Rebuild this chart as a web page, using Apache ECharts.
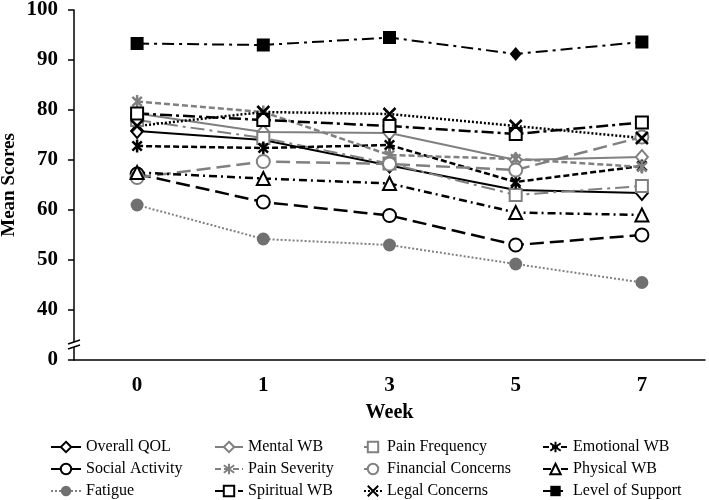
<!DOCTYPE html>
<html>
<head>
<meta charset="utf-8">
<script src="https://cdn.jsdelivr.net/npm/echarts@6/dist/echarts.min.js"></script>
<style>
html,body{margin:0;padding:0;background:#fff;}
#chart{width:709px;height:500px;}
</style>
</head>
<body>
<div id="chart"></div>
<script>
const weeks = ['0', '1', '3', '5', '7'];
const yTickLabels = ['0', '40', '50', '60', '70', '80', '90', '100'];

const overallQOL = [75.8, 74.0, 68.9, 64.0, 63.4];
const mentalWB = [79.3, 75.6, 75.4, 70.0, 70.6];
const painFrequency = [78.0, 74.4, 69.3, 63.0, 64.8];
const emotionalWB = [72.8, 72.4, 73.0, 65.6, 68.8];
const socialActivity = [67.2, 61.6, 58.9, 53.0, 55.0];
const painSeverity = [81.7, 79.6, 71.0, 70.2, 68.6];
const financialConcerns = [66.5, 69.7, 69.2, 68.0, 74.6];
const physicalWB = [67.5, 66.3, 65.3, 59.5, 59.0];
const fatigue = [61.0, 54.2, 53.0, 49.2, 45.5];
const spiritualWB = [79.3, 78.0, 76.8, 75.2, 77.5];
const legalConcerns = [76.8, 79.6, 79.2, 76.8, 74.4];
const levelOfSupport = [93.3, 93.0, 94.5, 91.2, 93.6];

// legend layout: rows of names (reading order of the reference legend)
const legendRows = [
  ['Overall QOL', 'Mental WB', 'Pain Frequency', 'Emotional WB'],
  ['Social Activity', 'Pain Severity', 'Financial Concerns', 'Physical WB'],
  ['Fatigue', 'Spiritual WB', 'Legal Concerns', 'Level of Support']
];

const BLACK = '#000000';
const GRAY = '#808080';
const X_PATH = 'path://M0 0L10 10M10 0L0 10';
const AST_PATH = 'path://M1 1L9 9M9 1L1 9M5 -0.5L5 10.5';

function ser(name, data, color, lineType, width, symbol, size, fill, border) {
  return {
    name: name,
    type: 'line',
    data: data,
    symbol: symbol,
    symbolSize: size,
    symbolKeepAspect: true,
    showSymbol: true,
    lineStyle: { color: color, type: lineType, width: width },
    itemStyle: { color: fill, borderColor: color, borderWidth: border },
    emphasis: { disabled: true },
    z: 2
  };
}

const series = [
  ser('Overall QOL', overallQOL, BLACK, 'solid', 2, 'diamond', [12, 14], '#fff', 2),
  ser('Mental WB', mentalWB, GRAY, 'solid', 2, 'diamond', [12, 14], '#fff', 2),
  ser('Pain Frequency', painFrequency, GRAY, [14, 5, 3, 5], 2, 'rect', 12, '#fff', 2),
  ser('Emotional WB', emotionalWB, BLACK, [6, 3], 2.5, AST_PATH, 13, 'none', 2.5),
  ser('Social Activity', socialActivity, BLACK, [14, 6], 2.5, 'circle', 13, '#fff', 2),
  ser('Pain Severity', painSeverity, GRAY, [6, 3], 2.5, AST_PATH, 13, 'none', 2.5),
  ser('Financial Concerns', financialConcerns, GRAY, [14, 6], 2.5, 'circle', 13, '#fff', 2),
  ser('Physical WB', physicalWB, BLACK, [8, 4, 2, 4], 2.5, 'triangle', 13, '#fff', 2),
  ser('Fatigue', fatigue, GRAY, [2, 2], 2, 'circle', 13, '#707070', 0),
  ser('Spiritual WB', spiritualWB, BLACK, [12, 4, 3, 4], 2.5, 'rect', 12, '#fff', 2),
  ser('Legal Concerns', legalConcerns, BLACK, [2, 2], 2.5, X_PATH, 12, 'none', 2.5),
  ser('Level of Support', levelOfSupport.map(function (v, i) {
    return i === 3 ? { value: v, symbol: 'diamond', symbolSize: [12, 14] } : v;
  }), BLACK, [12, 5, 3, 5], 2, 'rect', 13, BLACK, 0)
];

const legendText = { fontFamily: 'Liberation Serif', fontSize: 16, color: '#000' };
const colLeft = [50, 214, 363, 542];
const colIconW = [30, 28, 18, 25];
const rowCenter = [448, 470, 492];
const legends = [];
legendRows.forEach(function (row, r) {
  row.forEach(function (name, c) {
    legends.push({
      orient: 'horizontal', left: colLeft[c], top: rowCenter[r] - 9,
      itemWidth: colIconW[c], itemHeight: 13, itemGap: 0,
      data: [name], textStyle: legendText, selectedMode: false, padding: 0
    });
  });
});

const axisFont = { fontFamily: 'Liberation Serif', fontWeight: 'bold', fontSize: 21, color: '#000' };

const chart = echarts.init(document.getElementById('chart'), null, { renderer: 'canvas' });
chart.setOption({
  animation: false,
  backgroundColor: '#fff',
  grid: { left: 74, right: 4, top: 10, bottom: 140, containLabel: false, outerBoundsMode: 'none' },
  xAxis: {
    type: 'category', data: weeks, boundaryGap: true,
    axisLine: { lineStyle: { color: BLACK, width: 1.5 } },
    axisTick: { show: false },
    axisLabel: Object.assign({ margin: 15 }, axisFont),
    name: 'Week', nameLocation: 'middle', nameGap: 43,
    nameTextStyle: Object.assign({}, axisFont, { fontSize: 20 })
  },
  yAxis: {
    type: 'value', min: 30, max: 100, interval: 10,
    axisLine: { show: true, lineStyle: { color: BLACK, width: 1.5 } },
    axisTick: { show: true, length: 6, lineStyle: { color: BLACK, width: 1.5 } },
    splitLine: { show: false },
    axisLabel: Object.assign({
      margin: 16,
      formatter: function (v) {
        const idx = [30, 40, 50, 60, 70, 80, 90, 100].indexOf(v);
        return idx >= 0 ? yTickLabels[idx] : '';
      }
    }, axisFont),
    name: 'Mean Scores', nameLocation: 'middle', nameGap: 55, nameRotate: 90,
    nameMoveOverlap: false,
    nameTextStyle: Object.assign({}, axisFont, { fontSize: 19 })
  },
  legend: legends,
  series: series
});

// axis break marker on the y axis
const bp = chart.convertToPixel({ xAxisIndex: 0, yAxisIndex: 0 }, [0, 33.4]);
const axisX = 74;
const by = bp[1];
chart.setOption({
  graphic: [
    { type: 'polygon', shape: { points: [[axisX - 6, by + 1], [axisX + 6, by - 3], [axisX + 6, by + 2], [axisX - 6, by + 6]] }, style: { fill: '#fff', stroke: null }, z: 10 },
    { type: 'line', shape: { x1: axisX - 6, y1: by + 1, x2: axisX + 6, y2: by - 3 }, style: { stroke: '#000', lineWidth: 1.5 }, z: 11 },
    { type: 'line', shape: { x1: axisX - 6, y1: by + 6, x2: axisX + 6, y2: by + 2 }, style: { stroke: '#000', lineWidth: 1.5 }, z: 11 }
  ]
});
</script>
</body>
</html>
